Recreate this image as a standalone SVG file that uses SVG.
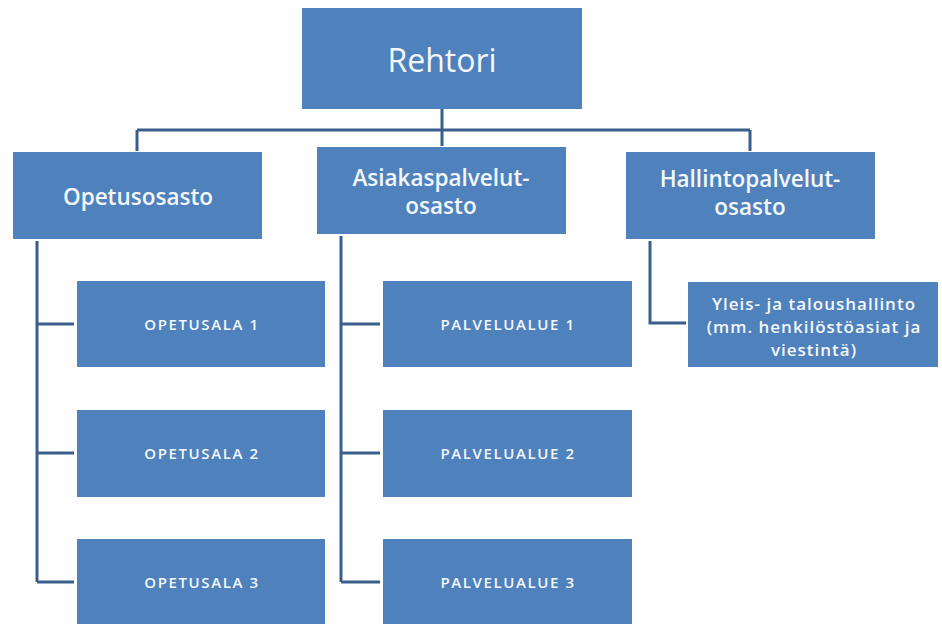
<svg xmlns="http://www.w3.org/2000/svg" width="942" height="624" viewBox="0 0 942 624">
<style>
.box{fill:#4f81bd;}
.ln{stroke:#3b5f8c;stroke-width:3;fill:none;}
text{font-family:"Open Sans","Liberation Sans",sans-serif;fill:#f4f7fb;text-anchor:middle;dominant-baseline:central;}
.t1{font-size:32px;font-weight:500;}
.t2{font-size:22.5px;font-weight:600;}
.t3{font-size:15px;font-weight:600;letter-spacing:1.6px;}
.t4{font-size:17px;font-weight:600;letter-spacing:1px;}
</style>
<rect width="942" height="624" fill="#ffffff"/>
<g id="connectors">
<path class="ln" d="M442 109V146M137 130H750M137 130V151M750 130V151"/>
<path class="ln" d="M37 241V582M37 324H74M37 453H74M37 582H74"/>
<path class="ln" d="M341 236V582M341 324H380M341 453H380M341 582H380"/>
<path class="ln" d="M650 241V323H686"/>
</g>
<g id="rehtori"><rect class="box" x="302" y="8" width="280" height="101"/><text class="t1" x="442" y="59">Rehtori</text></g>
<g id="opetusosasto"><rect class="box" x="13" y="152" width="249" height="87"/><text class="t2" x="138" y="196">Opetusosasto</text></g>
<g id="asiakaspalvelut"><rect class="box" x="317" y="147" width="249" height="87"/><text class="t2" x="441" y="177">Asiakaspalvelut-</text><text class="t2" x="441" y="205">osasto</text></g>
<g id="hallintopalvelut"><rect class="box" x="626" y="152" width="249" height="87"/><text class="t2" x="750" y="178">Hallintopalvelut-</text><text class="t2" x="750" y="206">osasto</text></g>
<g id="opetusala1"><rect class="box" x="77" y="281" width="248" height="86"/><text class="t3" x="202" y="324">OPETUSALA 1</text></g>
<g id="opetusala2"><rect class="box" x="77" y="410" width="248" height="87"/><text class="t3" x="202" y="453">OPETUSALA 2</text></g>
<g id="opetusala3"><rect class="box" x="77" y="539" width="248" height="86"/><text class="t3" x="202" y="582">OPETUSALA 3</text></g>
<g id="palvelualue1"><rect class="box" x="383" y="281" width="249" height="86"/><text class="t3" x="508" y="324">PALVELUALUE 1</text></g>
<g id="palvelualue2"><rect class="box" x="383" y="410" width="249" height="87"/><text class="t3" x="508" y="453">PALVELUALUE 2</text></g>
<g id="palvelualue3"><rect class="box" x="383" y="539" width="249" height="86"/><text class="t3" x="508" y="582">PALVELUALUE 3</text></g>
<g id="yleis"><rect class="box" x="688" y="282" width="250" height="85"/><text class="t4" x="814" y="303">Yleis- ja taloushallinto</text><text class="t4" x="814" y="326">(mm. henkilöstöasiat ja</text><text class="t4" x="814" y="349">viestintä)</text></g>
</svg>
